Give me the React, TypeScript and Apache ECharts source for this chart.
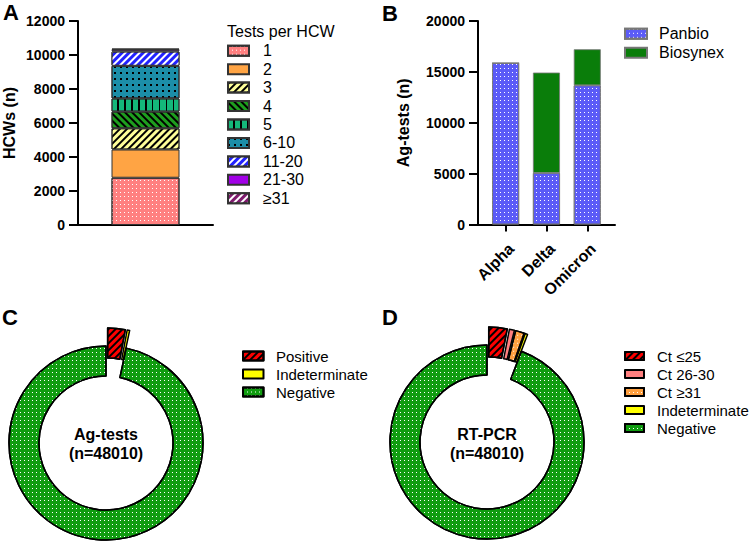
import React, { useEffect, useRef } from "react";
import * as echarts from "echarts";

const FONT = "'Liberation Sans', Arial, sans-serif";

// Panel A: tests per HCW
const hcwCategories = ["1", "2", "3", "4", "5", "6-10", "11-20", "21-30", "≥31"];
const hcwCounts = [2780, 1660, 1250, 980, 775, 1920, 835, 105, 70];
const hcwColors = ["#ff8080", "#ffa444", "#ffff99", "#1e9e1e", "#14b87a", "#1c8ea8", "#2222ff", "#a100e6", "#7f1a6e"];

// Panel B: Ag-tests per variant period
const variants = ["Alpha", "Delta", "Omicron"];
const panbio = [15870, 5070, 13680];
const biosynex = [0, 9860, 3540];

// Panel C: Ag-test results
const agNames = ["Positive", "Indeterminate", "Negative"];
const agValues = [1400, 200, 46410];
const agExploded = [true, true, false];

// Panel D: RT-PCR results
const pcrNames = ["Ct ≤25", "Ct 26-30", "Ct ≥31", "Indeterminate", "Negative"];
const pcrValues = [1470, 400, 700, 200, 45240];
const pcrExploded = [true, true, true, true, false];

const dots = (color: string, size = 1, gap = 3) => ({
  symbol: "rect",
  symbolSize: 1,
  color,
  dashArrayX: [size, gap],
  dashArrayY: [size, gap],
  rotation: 0,
});
const hatch = (color: string, rot: number, w = 1.1, gap = 2.4) => ({
  symbol: "rect",
  symbolSize: 1,
  color,
  dashArrayX: [1, 0],
  dashArrayY: [w, gap],
  rotation: rot,
});

const R = Math.PI / 4;
const hcwDecals: any[] = [
  dots("#ffffff"),
  null,
  hatch("#000000", -R),
  hatch("#000000", R),
  hatch("#000000", Math.PI / 2, 1.3, 4.4),
  dots("#000000", 1.2, 3.4),
  hatch("#ffffff", -R),
  null,
  hatch("#ffffff", -R),
];

const agStyles: any[] = [
  { color: "#ff0000", decal: hatch("#000000", -R) },
  { color: "#ffff00" },
  { color: "#109c10", decal: dots("#ffffff") },
];
const pcrStyles: any[] = [
  { color: "#ff0000", decal: hatch("#000000", -R) },
  { color: "#ff8080" },
  { color: "#ffa040", decal: dots("#ffffff", 1, 3) },
  { color: "#ffff00" },
  { color: "#109c10", decal: dots("#ffffff") },
];

const plain = (v: number) => String(v);
const tickLabel = { fontFamily: FONT, fontWeight: "bold", fontSize: 14, color: "#000", formatter: plain };
const axisLineStyle = { lineStyle: { color: "#000", width: 2 } };

export default function App() {
  const ref = useRef<HTMLDivElement>(null);
  useEffect(() => {
    if (!ref.current) return;
    const chart = echarts.init(ref.current, null, { renderer: "svg" });

    const series: any[] = [];
    hcwCategories.forEach((name, i) => {
      const itemStyle: any = { color: hcwColors[i], borderColor: "#333", borderWidth: 1 };
      if (hcwDecals[i]) itemStyle.decal = hcwDecals[i];
      series.push({
        type: "bar",
        name,
        xAxisIndex: 0,
        yAxisIndex: 0,
        stack: "A",
        barWidth: 68,
        data: [hcwCounts[i]],
        itemStyle,
        emphasis: { disabled: true },
      });
    });
    series.push({
      type: "bar",
      name: "Panbio",
      xAxisIndex: 2,
      yAxisIndex: 2,
      stack: "B",
      barWidth: 27,
      data: panbio,
      itemStyle: { color: "#5b5bf7", borderColor: "#777", borderWidth: 0.8, decal: dots("#ffffff") },
      emphasis: { disabled: true },
    });
    series.push({
      type: "bar",
      name: "Biosynex",
      xAxisIndex: 2,
      yAxisIndex: 2,
      stack: "B",
      barWidth: 27,
      data: biosynex,
      itemStyle: { color: "#0a7d0a", borderColor: "#777", borderWidth: 0.8 },
      emphasis: { disabled: true },
    });
    const pie = (center: number[], names: string[], values: number[], exploded: boolean[], styles: any[]) => ({
      type: "pie",
      center,
      radius: [67, 97],
      startAngle: 90,
      clockwise: true,
      selectedMode: "multiple",
      selectedOffset: 18,
      avoidLabelOverlap: false,
      label: { show: false },
      labelLine: { show: false },
      emphasis: { disabled: true },
      itemStyle: { borderColor: "#000", borderWidth: 1.5 },
      data: names.map((n, i) => ({
        name: n,
        value: values[i],
        selected: exploded[i],
        itemStyle: styles[i],
      })),
    });
    series.push(pie([106, 443], agNames, agValues, agExploded, agStyles));
    series.push(pie([487, 442], pcrNames, pcrValues, pcrExploded, pcrStyles));

    const legend = (data: string[], left: number, top: number, iw: number, ih: number, gap: number, fs: number, pad: number, lh: number) => ({
      orient: "vertical",
      icon: "rect",
      padding: 0,
      selectedMode: false,
      data,
      left,
      top,
      itemWidth: iw,
      itemHeight: ih,
      itemGap: gap,
      formatter: (n: string) => `{t|${n}}`,
      textStyle: {
        fontFamily: FONT,
        fontSize: fs,
        color: "#000",
        lineHeight: lh,
        rich: { t: { fontFamily: FONT, fontSize: fs, color: "#000", lineHeight: lh, padding: [0, 0, 0, pad] } },
      },
    });

    const bigLetter = (text: string, x: number, y: number) => ({
      type: "text",
      x,
      y,
      style: { text, font: `bold 22px ${FONT}`, fill: "#000" },
    });
    const centerText = (x: number, y: number, l1: string) => ({
      type: "text",
      x,
      y,
      style: {
        text: `${l1}\n(n=48010)`,
        font: `bold 16px ${FONT}`,
        lineHeight: 19,
        fill: "#000",
        textAlign: "center",
        textVerticalAlign: "middle",
      },
    });

    chart.setOption({
      animation: false,
      grid: [
        { left: 78, top: 21, width: 135, height: 204 },
        { left: 478, top: 21, width: 137, height: 203.5 },
        { left: 485.2, top: 21, width: 122.5, height: 203.5 },
      ],
      xAxis: [
        {
          gridIndex: 0,
          type: "category",
          data: ["HCWs"],
          axisLine: axisLineStyle,
          axisTick: { show: false },
          axisLabel: { show: false },
        },
        {
          gridIndex: 1,
          type: "value",
          min: 0,
          max: 1,
          axisLine: { show: true, onZero: false, ...axisLineStyle },
          axisTick: { show: false },
          axisLabel: { show: false },
          splitLine: { show: false },
        },
        {
          gridIndex: 2,
          type: "category",
          data: variants,
          axisLine: { show: false },
          axisTick: { show: true, alignWithLabel: true, length: 7, lineStyle: { color: "#000", width: 2 } },
          axisLabel: {
            rotate: 45,
            margin: 16,
            formatter: (v: string) => `{t|${v}}`,
            rich: { t: { fontFamily: FONT, fontWeight: "bold", fontSize: 16, color: "#000", padding: [16, 0, 0, 0] } },
          },
        },
      ],
      yAxis: [
        {
          gridIndex: 0,
          type: "value",
          min: 0,
          max: 12000,
          interval: 2000,
          axisLine: { show: true, ...axisLineStyle },
          axisTick: { show: true, length: 9, lineStyle: { color: "#000", width: 2 } },
          axisLabel: { ...tickLabel, margin: 13 },
          splitLine: { show: false },
          name: "HCWs (n)",
          nameLocation: "middle",
          nameGap: 61,
          nameTextStyle: { fontFamily: FONT, fontWeight: "bold", fontSize: 16, color: "#000" },
        },
        {
          gridIndex: 1,
          type: "value",
          min: 0,
          max: 20000,
          interval: 5000,
          axisLine: { show: true, ...axisLineStyle },
          axisTick: { show: true, length: 9, lineStyle: { color: "#000", width: 2 } },
          axisLabel: { ...tickLabel, margin: 13 },
          splitLine: { show: false },
          name: "Ag-tests (n)",
          nameLocation: "middle",
          nameGap: 67,
          nameTextStyle: { fontFamily: FONT, fontWeight: "bold", fontSize: 16, color: "#000" },
        },
        {
          gridIndex: 2,
          type: "value",
          min: 0,
          max: 20000,
          show: false,
        },
      ],
      legend: [
        legend(hcwCategories, 227, 41.7, 21, 10, 0.45, 16, 9, 18),
        legend(["Panbio", "Biosynex"], 624, 24.8, 22, 10, 1, 16, 7, 18),
        legend(agNames, 242, 347, 20.5, 9, 0, 15, 7.5, 18),
        legend(pcrNames, 624, 347, 19, 8, 0, 15, 8, 18),
      ],
      graphic: [
        bigLetter("A", 3, 1),
        bigLetter("B", 382, 2),
        bigLetter("C", 2, 306),
        bigLetter("D", 382, 306),
        {
          type: "text",
          x: 227,
          y: 23,
          style: { text: "Tests per HCW", font: `16px ${FONT}`, fill: "#000" },
        },
        centerText(106, 444, "Ag-tests"),
        centerText(487, 444, "RT-PCR"),
      ],
      series,
    });
    return () => chart.dispose();
  }, []);
  return (
    <div style={{ position: "fixed", left: 0, top: 0, width: 751, height: 552, background: "#fff" }}>
      <div ref={ref} style={{ width: 751, height: 552 }} />
    </div>
  );
}
